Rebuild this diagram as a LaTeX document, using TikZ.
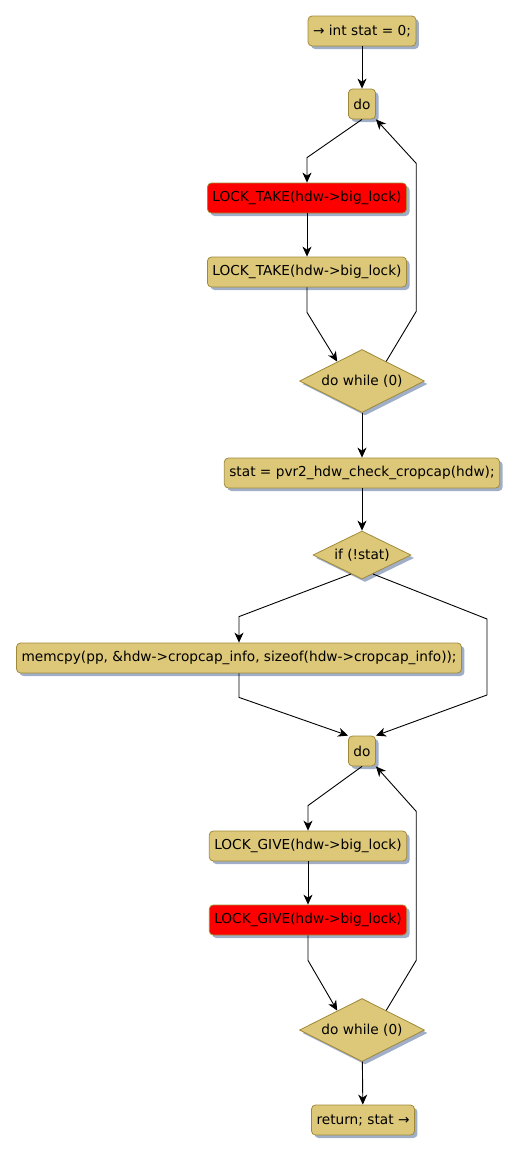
\documentclass[tikz,border=0pt]{standalone}
\usepackage{fontspec}
\setmainfont{DejaVu Sans}
\usepackage{tikz}
\usetikzlibrary{shapes.geometric,arrows.meta,positioning,calc,shadows}

\definecolor{actfill}{RGB}{221,200,122}
\definecolor{actline}{RGB}{160,138,58}
\definecolor{shade}{RGB}{160,174,200}
\definecolor{lockred}{RGB}{255,0,0}

\tikzset{
  act/.style={draw=actline, fill=actfill, rectangle, rounded corners=4pt, line width=0.8pt,
    minimum height=30pt, inner xsep=5pt, inner ysep=0pt,
    font=\fontsize{13.7}{16}\selectfont,
    drop shadow={shadow xshift=3pt, shadow yshift=-3pt, fill=shade, opacity=1}},
  lockact/.style={act, fill=lockred},
  cond/.style={draw=actline, fill=actfill, diamond, aspect=2, inner sep=0pt, line width=0.8pt,
    font=\fontsize{13.7}{16}\selectfont,
    drop shadow={shadow xshift=3pt, shadow yshift=-3pt, fill=shade, opacity=1}},
  flow/.style={-{Stealth[length=10pt, width=9pt, inset=3pt]}, line width=0.9pt, black}
}

\begin{document}
\begin{tikzpicture}[x=1pt, y=1pt]
  \useasboundingbox (0,0) rectangle (520,-1154);

  % take the lock
  \node[act] (init) at (362,-31) {→ int stat = 0;};
  \node[act] (do1) at (362,-104) {do};
  \node[lockact] (take1) at (307,-198) {LOCK\_TAKE(hdw->big\_lock)};
  \node[act] (take2) at (307,-272) {LOCK\_TAKE(hdw->big\_lock)};
  \node[cond, minimum width=125pt, minimum height=63pt] (wh1) at (362,-381) {do while (0)};

  % check
  \node[act] (stat) at (362,-473) {stat = pvr2\_hdw\_check\_cropcap(hdw);};
  \node[cond, minimum width=98pt, minimum height=48pt] (ifst) at (362,-555) {if (!stat)};
  \node[act] (copy) at (239,-658) {memcpy(pp, \&hdw->cropcap\_info, sizeof(hdw->cropcap\_info));};

  % give the lock
  \node[act] (do2) at (362,-751) {do};
  \node[act] (give1) at (308,-846) {LOCK\_GIVE(hdw->big\_lock)};
  \node[lockact] (give2) at (308,-920) {LOCK\_GIVE(hdw->big\_lock)};
  \node[cond, minimum width=125pt, minimum height=63pt] (wh2) at (362,-1030) {do while (0)};
  \node[act] (ret) at (363,-1120) {return; stat →};

  \draw[flow] (init) -- (do1);
  \draw[flow] (do1.south) -- ($(take1.north)+(0,25)$) -- (take1.north);
  \draw[flow] (take1) -- (take2);
  \draw[flow] (take2.south) -- ++(0,-25) -- (wh1.142);
  \draw[flow] (wh1.39) -- ++(30,50) -- ++(0,148) -- (do1.south east);
  \draw[flow] (wh1) -- (stat);
  \draw[flow] (stat) -- (ifst);
  \draw[flow] (ifst.240) -- ($(copy.north)+(0,26)$) -- (copy.north);
  \draw[flow] (ifst.300) -- ++(114,-45) -- ++(0,-76) -- (do2.north east);
  \draw[flow] (copy.south) -- ++(0,-24) -- (do2.north west);
  \draw[flow] (do2.south) -- ($(give1.north)+(0,25)$) -- (give1.north);
  \draw[flow] (give1) -- (give2);
  \draw[flow] (give2.south) -- ++(0,-25) -- (wh2.142);
  \draw[flow] (wh2.39) -- ++(30,50) -- ++(0,149) -- (do2.south east);
  \draw[flow] (wh2) -- (ret);
\end{tikzpicture}
\end{document}
